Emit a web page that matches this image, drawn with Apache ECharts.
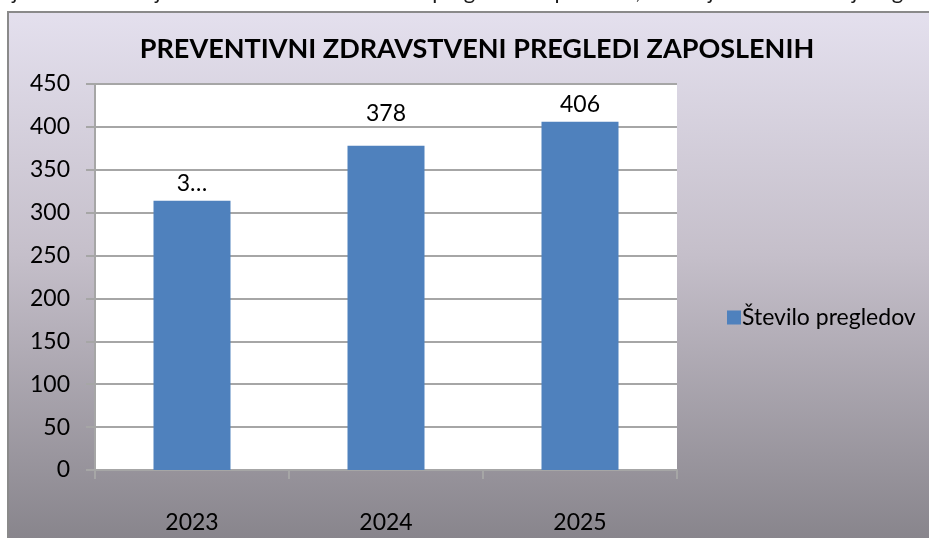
<!DOCTYPE html>
<html>
<head>
<meta charset="utf-8">
<script src="https://cdn.jsdelivr.net/npm/echarts@6/dist/echarts.min.js"></script>
<style>
  html, body { margin: 0; padding: 0; background: #ffffff; }
  #chart { width: 929px; height: 538px; }
</style>
</head>
<body>
<div id="chart"></div>
<script>
// Preventive health examinations of employees, per year
const categories = ['2023', '2024', '2025'];
const examCounts = [314, 378, 406];
const valueLabels = ['3…', '378', '406'];
const seriesName = 'Število pregledov';
const chartTitle = 'PREVENTIVNI ZDRAVSTVENI PREGLEDI ZAPOSLENIH';
const bodyLine = 'njenih 17 usmerjenih obdobnih zdravstvenih pregledov zaposlenih, ki delajo z viri ionizirajočega sevanja';

const FONT = 'Lato, "Open Sans", sans-serif';
// gap between each bar top and its value label
const labelGaps = [6, 21, 6];

const chart = echarts.init(document.getElementById('chart'), null, { renderer: 'canvas' });

chart.setOption({
  backgroundColor: '#ffffff',
  animation: false,
  graphic: [
    {
      // line of document text sitting above the chart frame
      type: 'text',
      left: 0,
      top: -19,
      z: -10,
      style: { text: bodyLine, font: '22px ' + FONT, fill: '#1a1a1a' }
    },
    {
      type: 'rect',
      z: -20,
      shape: { x: 8, y: 12, width: 940, height: 540 },
      style: {
        fill: new echarts.graphic.LinearGradient(0, 0, 0, 1, [
          { offset: 0, color: '#e4e0ee' },
          { offset: 0.45, color: '#c5bfca' },
          { offset: 1, color: '#858289' }
        ]),
        stroke: '#8a8a8a',
        lineWidth: 2
      }
    }
  ],
  title: {
    text: chartTitle,
    left: 472,
    textAlign: 'center',
    top: 31,
    textStyle: { fontFamily: FONT, fontWeight: 'bold', fontSize: 27, color: '#000000' }
  },
  legend: {
    data: [seriesName],
    orient: 'vertical',
    left: 722,
    top: 301,
    itemWidth: 14,
    itemHeight: 14,
    itemGap: 6,
    icon: 'rect',
    textStyle: { fontFamily: FONT, fontSize: 23, color: '#000000', padding: [0, 0, 0, -4] }
  },
  grid: { left: 95, top: 84, right: 252, bottom: 68, containLabel: false, show: true, backgroundColor: '#ffffff', borderWidth: 0 },
  xAxis: {
    type: 'category',
    data: categories,
    axisLine: { show: true, lineStyle: { color: '#a6a6a6', width: 2 } },
    axisTick: { show: true, length: 9, lineStyle: { color: '#a6a6a6', width: 2 } },
    axisLabel: { fontFamily: FONT, fontSize: 23, color: '#000000', margin: 41 }
  },
  yAxis: {
    type: 'value',
    min: 0,
    max: 450,
    interval: 50,
    axisLine: { show: true, lineStyle: { color: '#a6a6a6', width: 2 } },
    axisTick: { show: true, length: 9, lineStyle: { color: '#a6a6a6', width: 2 } },
    splitLine: { lineStyle: { color: '#a6a6a6', width: 2 } },
    axisLabel: { fontFamily: FONT, fontSize: 23, color: '#000000', margin: 25 }
  },
  series: [{
    name: seriesName,
    type: 'bar',
    data: examCounts.map((v, i) => ({ value: v, label: { distance: labelGaps[i] } })),
    barWidth: 77,
    itemStyle: { color: '#4f81bd' },
    label: {
      show: true,
      position: 'top',
      fontFamily: FONT,
      fontSize: 23,
      color: '#000000',
      formatter: p => valueLabels[p.dataIndex]
    }
  }]
});
</script>
</body>
</html>
